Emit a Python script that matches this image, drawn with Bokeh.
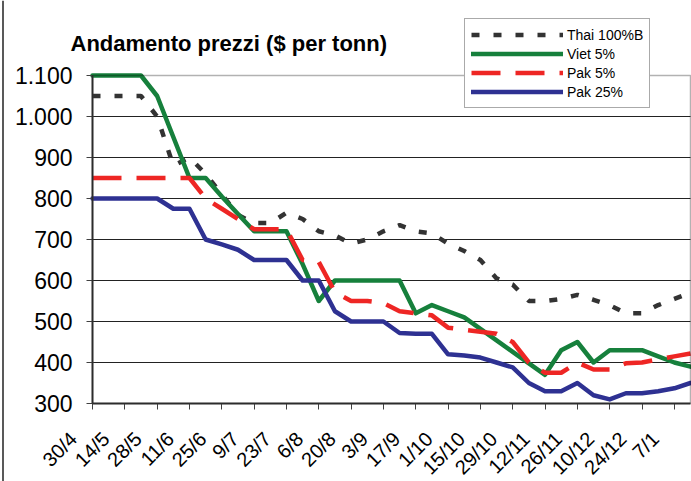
import math
from bokeh.plotting import figure
from bokeh.models import (Range1d, FixedTicker, Label, Legend, LegendItem,
                          BoxAnnotation, Span)
from bokeh.embed import file_html
from bokeh.resources import INLINE

dates = ["30/4", "7/5", "14/5", "21/5", "28/5", "4/6", "11/6", "18/6", "25/6",
         "2/7", "9/7", "16/7", "23/7", "30/7", "6/8", "13/8", "20/8", "27/8",
         "3/9", "10/9", "17/9", "24/9", "1/10", "8/10", "15/10", "22/10",
         "29/10", "5/11", "12/11", "19/11", "26/11", "3/12", "10/12", "17/12",
         "24/12", "31/12", "7/1", "14/1"]

thai_100b = [1050, 1050, 1050, 1050, 1000, 880, 900, 860, 810, 760, 740, 740,
             765, 750, 720, 710, 690, 700, 720, 735, 720, 715, 690, 672, 650,
             605, 590, 550, 550, 555, 565, 553, 540, 520, 520, 540, 555, 570]
viet_5 = [1100, 1100, 1100, 1100, 1050, 950, 850, 850, 805, 762, 720, 720,
          720, 640, 550, 600, 600, 600, 600, 600, 520, 540, 525, 510, 482,
          454, 426, 398, 370, 430, 450, 400, 430, 430, 430, 415, 400, 390]
pak_5 = [850, 850, 850, 850, 850, 850, 850, 800, 775, 750, 725, 725, 725,
         650, 645, 572, 550, 550, 545, 525, 520, 515, 485, 480, 475, 470,
         450, 400, 375, 375, 400, 383, 383, 398, 400, 408, 415, 422]
pak_25 = [800, 800, 800, 800, 800, 775, 775, 700, 688, 675, 650, 650, 650,
          600, 600, 525, 500, 500, 500, 472, 470, 470, 420, 417, 412, 400,
          388, 350, 330, 330, 350, 320, 310, 325, 325, 330, 337, 350]

y_ticks = [300, 400, 500, 600, 700, 800, 900, 1000, 1100]
y_tick_labels = ["300", "400", "500", "600", "700", "800", "900", "1.000", "1.100"]
series_names = ["Thai 100%B", "Viet 5%", "Pak 5%", "Pak 25%"]
title_text = "Andamento prezzi ($ per tonn)"

FONT = "Liberation Sans"
W, H = 691, 481
n = len(dates)
x = list(range(n))
y_lo, y_hi = y_ticks[0], y_ticks[-1]

# plot-area placement in canvas pixels (layout only)
PL, PR, PT, PB = 92, 690, 75, 403
xs = (PR - PL) / (n - 1)
ys = (PB - PT) / (y_hi - y_lo)

p = figure(width=W, height=H, output_backend="svg", toolbar_location=None,
           x_range=Range1d(-PL / xs, (n - 1) + (W - PR) / xs),
           y_range=Range1d(y_lo - (H - PB) / ys, y_hi + PT / ys),
           min_border_left=0, min_border_right=0, min_border_top=0,
           min_border_bottom=0)
p.background_fill_color = "white"
p.border_fill_color = "white"
p.outline_line_color = None

# plot area border
p.add_layout(BoxAnnotation(left=0, right=n - 1, bottom=y_lo, top=y_hi,
                           fill_alpha=0, line_color="black", line_width=1.5))
# chart border on the left
p.add_layout(Span(location=-PL / xs + 2.5 / xs, dimension="height",
                  line_color="#222222", line_width=1.5))

# grid
p.xgrid.grid_line_color = None
p.ygrid.ticker = FixedTicker(ticks=y_ticks[1:-1])
p.ygrid.grid_line_color = "#222222"
p.ygrid.grid_line_width = 1
try:
    p.ygrid.cross_bounds = (0, n - 1)
except Exception:
    p.ygrid.grid_line_color = None
    gy = y_ticks[1:-1]
    p.segment(x0=[0] * len(gy), x1=[n - 1] * len(gy), y0=gy, y1=gy,
              line_color="#222222", line_width=1)

# y axis
p.yaxis.fixed_location = 0
p.yaxis.bounds = (y_lo, y_hi)
p.yaxis.ticker = FixedTicker(ticks=y_ticks)
p.yaxis.major_label_overrides = {t: l for t, l in zip(y_ticks, y_tick_labels)}
p.yaxis.major_label_text_font = FONT
p.yaxis.major_label_text_font_size = "23px"
p.yaxis.major_label_text_color = "black"
p.yaxis.major_label_standoff = 14
p.yaxis.major_tick_out = 6
p.yaxis.major_tick_in = 0
p.yaxis.minor_tick_line_color = None
p.yaxis.axis_line_width = 2
p.yaxis.axis_line_color = "#404040"
p.yaxis.major_tick_line_color = "#404040"

# x axis (labels drawn as rotated labels)
p.xaxis.fixed_location = y_lo
p.xaxis.bounds = (0, n - 1)
p.xaxis.ticker = FixedTicker(ticks=x[::2])
p.xaxis.major_label_overrides = {i: "" for i in x}
p.xaxis.major_tick_out = 6
p.xaxis.major_tick_in = 0
p.xaxis.minor_tick_line_color = None
p.xaxis.axis_line_width = 2
p.xaxis.axis_line_color = "#404040"
p.xaxis.major_tick_line_color = "#404040"

for i in x[::2]:
    p.add_layout(Label(x=i, y=y_lo, text=dates[i], x_offset=-19, y_offset=-32,
                       angle=math.pi / 4, text_align="right",
                       text_baseline="middle", text_font=FONT,
                       text_font_size="20px", text_color="black"))

r_thai = p.line(x, thai_100b, line_color="#333333", line_width=4.5,
                line_dash="8 14")
r_viet = p.line(x, viet_5, line_color="#16803c", line_width=4.5,
                line_join="round", line_cap="round")
r_pak5 = p.line(x, pak_5, line_color="#ee2624", line_width=4.5,
                line_dash="29 15")
r_pak25 = p.line(x, pak_25, line_color="#2e3192", line_width=4.5,
                 line_join="round", line_cap="round")

p.add_layout(Label(x=0, y=y_hi, x_offset=-22, y_offset=32, text=title_text,
                   text_font=FONT, text_font_size="22px",
                   text_font_style="bold", text_color="black",
                   text_baseline="alphabetic"))

legend = Legend(items=[LegendItem(label=s, renderers=[r]) for s, r in
                       zip(series_names, [r_thai, r_viet, r_pak5, r_pak25])],
                location=(464, H - 108))
legend.label_text_font = FONT
legend.label_text_font_size = "14px"
legend.label_text_color = "black"
legend.label_standoff = 4
legend.glyph_width = 92
legend.glyph_height = 19
legend.label_height = 19
legend.padding = 6
legend.spacing = 0
legend.margin = 0
legend.border_line_color = "#555555"
legend.border_line_width = 1
legend.background_fill_color = "white"
legend.background_fill_alpha = 1
p.add_layout(legend, "center")

open("out.html", "w").write(file_html(p, INLINE))
